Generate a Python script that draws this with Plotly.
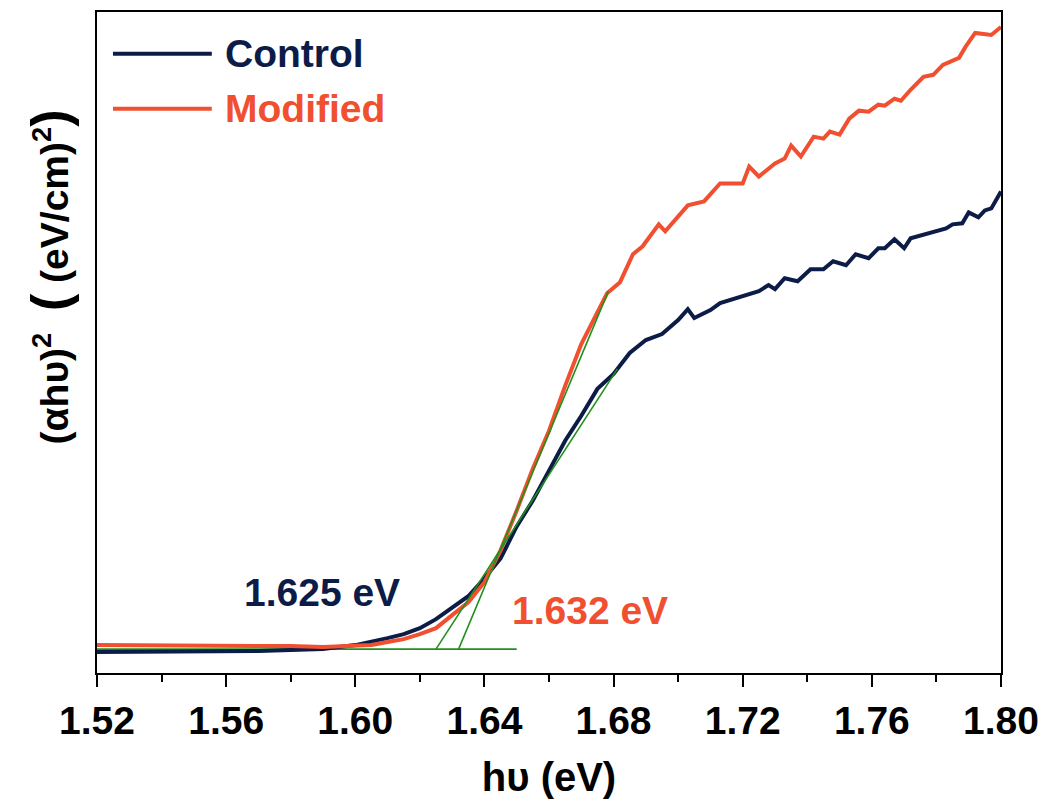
import plotly.graph_objects as go

# ---------------- data ----------------
control_x = [1.520, 1.530, 1.540, 1.550, 1.560, 1.570, 1.580, 1.590, 1.600, 1.605,
             1.610, 1.615, 1.620, 1.625, 1.630, 1.635, 1.640, 1.645, 1.650, 1.655,
             1.660, 1.665, 1.670, 1.675, 1.680, 1.685, 1.690, 1.695, 1.700, 1.703,
             1.705, 1.708, 1.710, 1.713, 1.720, 1.725, 1.728, 1.730, 1.733, 1.737,
             1.741, 1.745, 1.748, 1.752, 1.755, 1.759, 1.762, 1.764, 1.767, 1.770,
             1.772, 1.780, 1.783, 1.785, 1.788, 1.790, 1.793, 1.795, 1.797, 1.800]
control_y = [0.21, 0.21, 0.21, 0.21, 0.22, 0.22, 0.23, 0.24, 0.28, 0.31,
             0.35, 0.39, 0.45, 0.54, 0.65, 0.77, 0.95, 1.15, 1.47, 1.73,
             2.03, 2.33, 2.58, 2.85, 3.00, 3.21, 3.34, 3.40, 3.54, 3.65,
             3.56, 3.61, 3.64, 3.71, 3.78, 3.83, 3.89, 3.85, 3.96, 3.93,
             4.05, 4.05, 4.13, 4.09, 4.20, 4.16, 4.26, 4.26, 4.35, 4.26,
             4.36, 4.43, 4.46, 4.50, 4.51, 4.62, 4.57, 4.64, 4.66, 4.83]

modified_x = [1.520, 1.530, 1.540, 1.550, 1.560, 1.570, 1.580, 1.590, 1.600, 1.605,
              1.610, 1.615, 1.620, 1.625, 1.630, 1.635, 1.640, 1.645, 1.650, 1.655,
              1.660, 1.665, 1.670, 1.675, 1.678, 1.682, 1.686, 1.689, 1.694, 1.696,
              1.703, 1.708, 1.713, 1.720, 1.722, 1.725, 1.730, 1.733, 1.735, 1.738,
              1.742, 1.745, 1.747, 1.750, 1.753, 1.756, 1.759, 1.762, 1.764, 1.767,
              1.769, 1.772, 1.776, 1.779, 1.782, 1.787, 1.789, 1.792, 1.797, 1.800]
modified_y = [0.28, 0.28, 0.27, 0.27, 0.28, 0.27, 0.27, 0.26, 0.27, 0.28,
              0.31, 0.34, 0.39, 0.45, 0.58, 0.71, 0.91, 1.23, 1.63, 2.05,
              2.43, 2.88, 3.30, 3.61, 3.81, 3.92, 4.20, 4.28, 4.50, 4.43,
              4.69, 4.73, 4.91, 4.91, 5.08, 4.98, 5.11, 5.16, 5.29, 5.18,
              5.38, 5.36, 5.43, 5.40, 5.56, 5.64, 5.63, 5.70, 5.69, 5.76,
              5.74, 5.85, 5.98, 6.00, 6.10, 6.17, 6.28, 6.42, 6.40, 6.48]

# tangent / baseline construction lines (eV, a.u.)
baseline_x = [1.520, 1.650]
baseline_y = [0.24, 0.24]
control_fit_x = [1.625, 1.6812]
control_fit_y = [0.24, 3.05]
modified_fit_x = [1.632, 1.6784]
modified_fit_y = [0.24, 3.83]

series_names = ["Control", "Modified"]
gap_labels = ["1.625 eV", "1.632 eV"]
gap_label_x = [1.5896, 1.6728]
gap_label_y = [0.81, 0.63]

x_ticks = [1.52, 1.56, 1.60, 1.64, 1.68, 1.72, 1.76, 1.80]

NAVY = "#0d1c47"
RED = "#f0502f"
GREEN = "#22901c"
FONT = "Liberation Sans, Arial, sans-serif"

fig = go.Figure()

fig.add_trace(go.Scatter(x=baseline_x, y=baseline_y, mode="lines", line=dict(color=GREEN, width=1.8),
                         showlegend=False, hoverinfo="skip"))

fig.add_trace(go.Scatter(x=control_x, y=control_y, mode="lines", name=series_names[0],
                         line=dict(color=NAVY, width=4), showlegend=False))
fig.add_trace(go.Scatter(x=modified_x, y=modified_y, mode="lines", name=series_names[1],
                         line=dict(color=RED, width=4), showlegend=False))

# tangent lines drawn over the curves, as in the reference
for fx, fy in [(control_fit_x, control_fit_y), (modified_fit_x, modified_fit_y)]:
    fig.add_trace(go.Scatter(x=fx, y=fy, mode="lines", line=dict(color=GREEN, width=1.6),
                             showlegend=False, hoverinfo="skip"))

annotations = []
for txt, ax, ay, col in zip(gap_labels, gap_label_x, gap_label_y, [NAVY, RED]):
    annotations.append(dict(x=ax, y=ay, xref="x", yref="y", text=txt, showarrow=False,
                            font=dict(family=FONT, size=39, color=col, weight="bold"),
                            xanchor="center", yanchor="middle"))

# manual legend (long line samples, coloured labels)
leg_y = [0.9367, 0.8537]
shapes = []
for name, ly, col in zip(series_names, leg_y, [NAVY, RED]):
    shapes.append(dict(type="line", xref="paper", yref="paper", x0=0.0177, x1=0.127,
                       y0=ly, y1=ly, line=dict(color=col, width=4)))
    annotations.append(dict(x=0.139, y=ly, xref="paper", yref="paper", text=name,
                            showarrow=False, xanchor="left", yanchor="middle",
                            font=dict(family=FONT, size=39, color=col, weight="bold")))

# y-axis title
annotations.append(dict(
    x=-0.052, y=0.60, xref="paper", yref="paper", textangle=-90, showarrow=False,
    xanchor="center", yanchor="middle",
    text="(αhυ)<sup>2</sup>  <span style='font-size:52px'>(</span> (eV/cm)<sup>2</sup><span style='font-size:52px'>)</span>",
    font=dict(family=FONT, size=39, color="black", weight="bold")))

fig.update_layout(
    width=1049, height=811,
    margin=dict(l=97, r=47, t=10, b=138),
    paper_bgcolor="white", plot_bgcolor="white",
    showlegend=False,
    annotations=annotations,
    shapes=shapes,
    xaxis=dict(
        range=[1.52, 1.80], tickmode="array", tickvals=x_ticks,
        ticktext=[f"{v:.2f}" for v in x_ticks],
        ticks="outside", ticklen=12, tickwidth=2, tickcolor="black",
        minor=dict(ticks="outside", ticklen=7, tickwidth=2, tickcolor="black", dtick=0.02, tick0=1.52),
        showline=True, linecolor="black", linewidth=2, mirror=True,
        showgrid=False, zeroline=False,
        tickfont=dict(family=FONT, size=39, color="black", weight="bold"),
        title=dict(text="hυ (eV)", standoff=22,
                   font=dict(family=FONT, size=40, color="black", weight="bold")),
    ),
    yaxis=dict(
        range=[0, 6.63], showticklabels=False, ticks="",
        showline=True, linecolor="black", linewidth=2, mirror=True,
        showgrid=False, zeroline=False,
    ),
)

fig.write_html("out.html")
